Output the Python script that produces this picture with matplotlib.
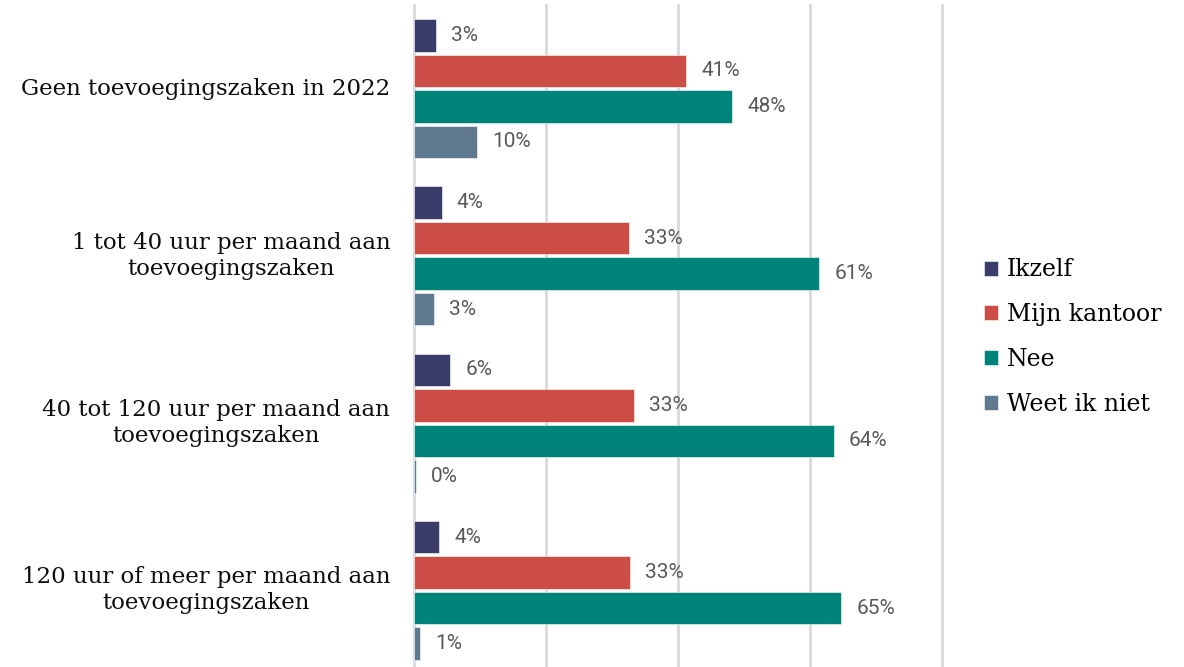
import matplotlib
matplotlib.use("Agg")
import matplotlib.pyplot as plt
import numpy as np

categories = [
    "Geen toevoegingszaken in 2022",
    "1 tot 40 uur per maand aan\ntoevoegingszaken",
    "40 tot 120 uur per maand aan\ntoevoegingszaken",
    "120 uur of meer per maand aan\ntoevoegingszaken",
]
series_names = ["Ikzelf", "Mijn kantoor", "Nee", "Weet ik niet"]
ikzelf = [3.3, 4.2, 5.5, 3.8]
mijn_kantoor = [41.2, 32.6, 33.3, 32.7]
nee = [48.2, 61.4, 63.6, 64.7]
weet_ik_niet = [9.5, 3.0, 0.3, 0.9]
colors = ["#393B68", "#CB4D45", "#00847A", "#5F7A8E"]
grid_ticks = [0, 20, 40, 60, 80]

data = [ikzelf, mijn_kantoor, nee, weet_ik_niet]

fig = plt.figure(figsize=(11.84, 6.67), dpi=100)
ax = fig.add_axes([414/1184, -7/667, (942-414)/1184, (674-5)/667])

pitch = 0.212
height = 0.195
y = np.arange(len(categories))
handles = []
for i, (vals, name, c) in enumerate(zip(data, series_names, colors)):
    pos = y + (i - 1.5) * pitch
    b = ax.barh(pos, vals, height=height, color=c, label=name, zorder=3,
                edgecolor="white", linewidth=0.4)
    handles.append(b)
    for p, v in zip(pos, vals):
        ax.text(v + 2.3, p, f"{round(v):d}%", va="center", ha="left",
                fontsize=15, color="#595959", family=["Roboto", "DejaVu Sans"])

ax.set_xlim(0, 80)
ax.set_ylim(len(categories) - 0.5, -0.5)
for g in grid_ticks:
    ax.axvline(g, color="#D9D9D9", linewidth=2, zorder=0, clip_on=False)
ax.set_xticks([])
ax.set_yticks([])
for s in ax.spines.values():
    s.set_visible(False)

for yi, cat in zip(y, categories):
    ax.text(-3.6, yi, cat, ha="right", va="center", multialignment="center",
            fontsize=16.5, family="DejaVu Serif", color="#0D0D0D",
            linespacing=1.25)

leg = fig.legend(handles=handles, labels=series_names, loc="center left",
                 bbox_to_anchor=(963/1184, 1 - 337/667), frameon=False,
                 prop={"family": "DejaVu Serif", "size": 17},
                 handlelength=0.6, handleheight=0.6, handletextpad=0.35,
                 labelspacing=0.92)

fig.savefig("out.png", dpi=100)
